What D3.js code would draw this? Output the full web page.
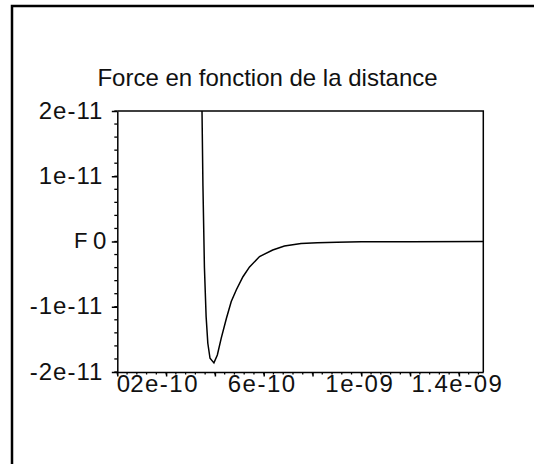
<!DOCTYPE html>
<html>
<head>
<meta charset="utf-8">
<script src="https://cdn.jsdelivr.net/npm/d3@7"></script>
<style>
	body { margin: 0; background: #fff; }
	svg { display: block; }
	text { font-family: 'Liberation Sans', Arial, sans-serif; fill: #111; }
</style>
</head>
<body>
<div class="chart"></div>
<script>
// distance (m) and force (N)
const distances = [3.43e-10, 3.47e-10, 3.51e-10, 3.57e-10, 3.64e-10, 3.71e-10, 3.80e-10, 3.96e-10,
	4.10e-10, 4.26e-10, 4.47e-10, 4.67e-10, 4.88e-10, 5.15e-10, 5.42e-10, 5.83e-10,
	6.37e-10, 6.85e-10, 7.53e-10, 8.2e-10, 9.0e-10, 1.0e-9, 1.2e-9, 1.5e-9]
const forces = [2.7e-11, 2.05e-11, 0.85e-11, -0.39e-11, -1.15e-11, -1.56e-11, -1.79e-11, -1.86e-11,
	-1.74e-11, -1.48e-11, -1.18e-11, -0.92e-11, -0.74e-11, -0.54e-11, -0.39e-11, -0.23e-11,
	-0.13e-11, -0.07e-11, -0.03e-11, -0.02e-11, -0.01e-11, -0.005e-11, -0.002e-11, 0]

const xMajor = [0, 2e-10, 4e-10, 6e-10, 8e-10, 1e-9, 1.2e-9, 1.4e-9]
const xLabelled = [0, 2e-10, 6e-10, 1e-9, 1.4e-9]
const yMajor = [-2e-11, -1e-11, 0, 1e-11, 2e-11]
const title = 'Force en fonction de la distance'
const yName = 'F'

const width = 534
const height = 464
const plot = { left: 117.3, right: 483.3, top: 111, bottom: 372 }

const svg = d3.select('.chart')
	.append('svg')
	.attr('width', width)
	.attr('height', height)

// outer frame, only its top and left edges are in view
svg.append('rect')
	.attr('x', 12)
	.attr('y', 6)
	.attr('width', 700)
	.attr('height', 700)
	.attr('fill', 'none')
	.attr('stroke', '#000')
	.attr('stroke-width', 2.5)

const xScale = d3.scaleLinear()
	.domain([0, 1.5e-9])
	.range([plot.left, plot.right])

const yScale = d3.scaleLinear()
	.domain([-2e-11, 2e-11])
	.range([plot.bottom, plot.top])

// 2e-10, 1e-09, 1.4e-09 style
function sci(v) {
	if (v === 0) return '0'
	const [m, e] = v.toExponential().split('e')
	const sign = e[0] === '-' ? '-' : ''
	const digits = e.replace(/^[+-]/, '')
	return m + 'e' + sign + (digits.length < 2 ? '0' + digits : digits)
}
function sciY(v) {
	if (v === 0) return '0'
	return v.toExponential()
}

svg.append('text')
	.attr('x', 267.5)
	.attr('y', 86)
	.attr('text-anchor', 'middle')
	.attr('font-size', 24)
	.text(title)

// minor ticks
const xMinor = d3.range(0, 38).map(i => i * 4e-11)
const yMinor = d3.range(-10, 11).map(i => i * 2e-12)

svg.append('g')
	.selectAll('line')
	.data(xMinor)
	.join('line')
	.attr('x1', d => xScale(d))
	.attr('x2', d => xScale(d))
	.attr('y1', plot.bottom)
	.attr('y2', plot.bottom + 2.5)
	.attr('stroke', '#000')
	.attr('stroke-width', 1.3)

svg.append('g')
	.selectAll('line')
	.data(yMinor)
	.join('line')
	.attr('x1', plot.left - 3)
	.attr('x2', plot.left)
	.attr('y1', d => yScale(d))
	.attr('y2', d => yScale(d))
	.attr('stroke', '#000')
	.attr('stroke-width', 1.3)

var xAxis = d3.axisBottom(xScale)
	.tickValues(xMajor)
	.tickSize(4.5)
	.tickSizeOuter(0)
	.tickFormat(d => xLabelled.includes(d) ? sci(d) : '')

var yAxis = d3.axisLeft(yScale)
	.tickValues(yMajor)
	.tickSize(5.5)
	.tickSizeOuter(0)
	.tickFormat(sciY)

var xAxisGroup = svg.append('g')
	.attr('class', 'axis x-axis')
	.attr('transform', `translate(0, ${plot.bottom})`)
	.call(xAxis)

var yAxisGroup = svg.append('g')
	.attr('class', 'axis y-axis')
	.attr('transform', `translate(${plot.left}, 0)`)
	.call(yAxis)

svg.selectAll('.axis path, .axis line')
	.attr('stroke', '#000')
	.attr('stroke-width', 1.5)

xAxisGroup.selectAll('text')
	.attr('font-size', 24)
	.attr('font-family', null)
	.attr('letter-spacing', 1.5)
	.attr('y', 3)
	.attr('dx', -2)
	.attr('fill', '#111')
	.filter(d => d === 0)
	.attr('text-anchor', 'start')
	.attr('letter-spacing', 0)
	.attr('dx', -1)

yAxisGroup.selectAll('text')
	.attr('font-size', 24)
	.attr('font-family', null)
	.attr('letter-spacing', 1)
	.attr('x', -14)
	.attr('dy', '0.3em')
	.attr('fill', '#111')
	.filter(d => d === 0)
	.attr('x', -10)

// axis name sits next to the zero label
svg.append('text')
	.attr('x', 74)
	.attr('y', yScale(0))
	.attr('dy', '0.3em')
	.attr('font-size', 22)
	.text(yName)

// top and right sides of the box
svg.append('path')
	.attr('d', `M${plot.left},${plot.top}H${plot.right}V${plot.bottom}`)
	.attr('fill', 'none')
	.attr('stroke', '#000')
	.attr('stroke-width', 1.5)

svg.append('clipPath')
	.attr('id', 'clip')
	.append('rect')
	.attr('x', plot.left)
	.attr('y', plot.top)
	.attr('width', plot.right - plot.left)
	.attr('height', plot.bottom - plot.top)

var line = d3.line()
	.x((d, i) => xScale(distances[i]))
	.y(d => yScale(d))

svg.append('path')
	.datum(forces)
	.attr('clip-path', 'url(#clip)')
	.attr('d', line)
	.attr('fill', 'none')
	.attr('stroke', '#000')
	.attr('stroke-width', 1.5)
</script>
</body>
</html>
